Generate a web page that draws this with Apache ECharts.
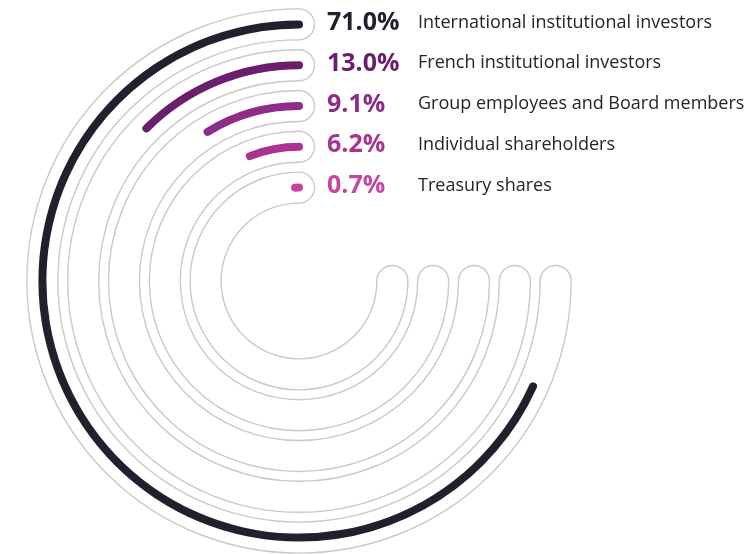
<!DOCTYPE html>
<html>
<head>
<meta charset="utf-8">
<script src="https://cdn.jsdelivr.net/npm/echarts@6/dist/echarts.min.js"></script>
<style>
    html, body { margin: 0; padding: 0; background: #fff; }
    #chart { width: 750px; height: 554px; }
</style>
</head>
<body>
<div id="chart"></div>
<script>

// inner ring first, outer ring last
const categories = [
    'Treasury shares',
    'Individual shareholders',
    'Group employees and Board members',
    'French institutional investors',
    'International institutional investors'
];
const shares = [0.7, 6.2, 9.1, 13.0, 71.0];
const barColors = ['#c9449e', '#aa3290', '#8e2c87', '#6a1f6c', '#22202f'];

// the empty tracks run three quarters of the way round
const trackValues = [78, 78, 78, 78, 78];

const center = [299, 281];
const ringRadius = [73, 277];

const chart = echarts.init(document.getElementById('chart'));

const band = (ringRadius[1] - ringRadius[0]) / categories.length;

const labels = [];
categories.forEach((name, i) => {
    const y = center[1] - (ringRadius[0] + band * (i + 0.5));
    labels.push({
        type: 'text',
        left: 327,
        top: y - 14,
        style: {
            text: shares[i].toFixed(1) + '%',
            fill: barColors[i],
            font: 'bold 25px "Open Sans"'
        }
    });
    labels.push({
        type: 'text',
        left: 418,
        top: y - 11,
        style: {
            text: name,
            fill: '#25232b',
            font: '18px "Open Sans"'
        }
    });
});

const angleAxis = {
    type: 'value',
    min: 0,
    max: 104,
    startAngle: 90,
    clockwise: false,
    show: false
};

const radiusAxis = {
    type: 'category',
    data: categories,
    show: false
};

const option = {
    animation: false,
    polar: [
        { center: center, radius: ringRadius },
        { center: center, radius: ringRadius }
    ],
    angleAxis: [
        Object.assign({ polarIndex: 0 }, angleAxis),
        Object.assign({ polarIndex: 1 }, angleAxis)
    ],
    radiusAxis: [
        Object.assign({ polarIndex: 0 }, radiusAxis),
        Object.assign({ polarIndex: 1 }, radiusAxis)
    ],
    series: [
        {
            type: 'bar',
            coordinateSystem: 'polar',
            polarIndex: 0,
            barWidth: 31,
            roundCap: true,
            z: 1,
            itemStyle: {
                color: '#fff',
                borderColor: '#c9c9c9',
                borderWidth: 1.4
            },
            data: trackValues
        },
        {
            type: 'bar',
            coordinateSystem: 'polar',
            polarIndex: 1,
            barWidth: 8,
            roundCap: true,
            z: 2,
            data: shares.map((v, i) => ({
                value: v,
                itemStyle: { color: barColors[i] }
            }))
        }
    ],
    graphic: labels
};

option && chart.setOption(option);

</script>
</body>
</html>
